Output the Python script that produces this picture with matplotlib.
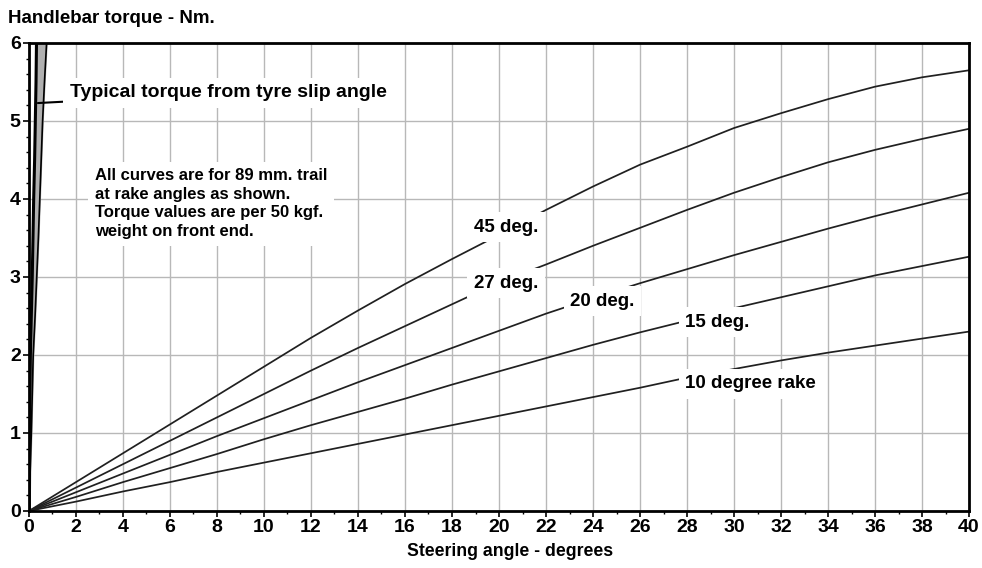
import numpy as np
import matplotlib
matplotlib.use("Agg")
import matplotlib.pyplot as plt
from matplotlib.ticker import MultipleLocator

# steering angle (deg) vs handlebar torque (Nm)
steer = [0, 2, 4, 6, 8, 10, 12, 14, 16, 18, 20, 22, 24, 26, 28, 30, 32, 34, 36, 38, 40]
rake45 = [0, 0.37, 0.74, 1.11, 1.48, 1.85, 2.22, 2.57, 2.91, 3.23, 3.54, 3.86, 4.16, 4.44, 4.67, 4.91, 5.10, 5.28, 5.44, 5.56, 5.65]
rake27 = [0, 0.30, 0.60, 0.90, 1.20, 1.50, 1.80, 2.09, 2.37, 2.65, 2.93, 3.16, 3.40, 3.63, 3.86, 4.08, 4.28, 4.47, 4.63, 4.77, 4.90]
rake20 = [0, 0.24, 0.48, 0.72, 0.96, 1.19, 1.42, 1.65, 1.87, 2.09, 2.31, 2.53, 2.73, 2.92, 3.10, 3.28, 3.45, 3.62, 3.78, 3.93, 4.08]
rake15 = [0, 0.18, 0.37, 0.55, 0.73, 0.92, 1.10, 1.27, 1.44, 1.62, 1.79, 1.96, 2.13, 2.29, 2.44, 2.60, 2.74, 2.88, 3.02, 3.14, 3.26]
rake10 = [0, 0.12, 0.25, 0.37, 0.50, 0.62, 0.74, 0.86, 0.98, 1.10, 1.22, 1.34, 1.46, 1.58, 1.71, 1.82, 1.93, 2.03, 2.12, 2.21, 2.30]

# tyre slip angle band (very steep)
slip_y = [0, 0.5, 1, 1.5, 2, 2.5, 3, 3.5, 4, 4.5, 5, 5.5, 6]
slip_lo = [0, 0.0, 0.02, 0.04, 0.06, 0.10, 0.14, 0.17, 0.20, 0.24, 0.27, 0.30, 0.32]
slip_hi = [0.02, 0.05, 0.10, 0.14, 0.18, 0.26, 0.33, 0.40, 0.46, 0.52, 0.58, 0.66, 0.75]

fam = ['Liberation Sans', 'DejaVu Sans']

fig = plt.figure(figsize=(9.82, 5.68), dpi=100)
ax = fig.add_axes([0.0295, 0.1004, 0.9573, 0.8239])

for s in [rake45, rake27, rake20, rake15, rake10]:
    ax.plot(steer, s, color='#202020', lw=1.25, zorder=2)

ax.fill_betweenx(slip_y, slip_lo, slip_hi, color='#b0b0b0', zorder=2)
ax.plot(slip_lo, slip_y, color='black', lw=2.2, zorder=2)
ax.plot(slip_hi, slip_y, color='black', lw=1.2, zorder=2)

ax.set_xlim(0, 40)
ax.set_ylim(0, 6)
ax.xaxis.set_major_locator(MultipleLocator(2))
ax.xaxis.set_minor_locator(MultipleLocator(1))
ax.yaxis.set_major_locator(MultipleLocator(1))
ax.yaxis.set_minor_locator(MultipleLocator(0.2))
ax.grid(True, which='major', color='#b8b8b8', lw=1.0, zorder=0)
ax.set_axisbelow(True)
for sp in ax.spines.values():
    sp.set_linewidth(2)
ax.tick_params(which='major', length=4, width=1.2, pad=2)
ax.tick_params(which='minor', length=2, width=1)
for lab in ax.get_xticklabels() + ax.get_yticklabels():
    lab.set_family(fam)
    lab.set_fontweight('bold')
    lab.set_fontsize(14)

fig.text(0.008, 0.968, 'Handlebar torque - Nm.', family=fam, fontweight='bold', fontsize=13.5, va='center')
ax.set_xlabel('Steering angle - degrees', family=fam, fontweight='bold', fontsize=12.7)
ax.xaxis.set_label_coords(0.512, -0.068)

box = dict(boxstyle='square,pad=0.35', fc='white', ec='none')
lab_kw = dict(family=fam, fontweight='bold', fontsize=13.5, ha='center', va='center', bbox=box, zorder=4)
ax.text(20.3, 3.64, '45 deg.', **lab_kw)
ax.text(20.3, 2.92, '27 deg.', **lab_kw)
ax.text(24.4, 2.69, '20 deg.', **lab_kw)
ax.text(29.3, 2.42, '15 deg.', **lab_kw)
ax.text(30.7, 1.63, '10 degree rake', **lab_kw)

ax.text(2.8, 3.94, 'All curves are for 89 mm. trail\nat rake angles as shown.\nTorque values are per 50 kgf.\nweight on front end.',
        family=fam, fontweight='bold', fontsize=12, ha='left', va='center', linespacing=1.3,
        bbox=dict(boxstyle='square,pad=0.4', fc='white', ec='none'), zorder=4)

ax.annotate('Typical torque from tyre slip angle', xy=(0.38, 5.23), xytext=(1.75, 5.36),
            family=fam, fontweight='bold', fontsize=14, ha='left', va='center',
            bbox=dict(boxstyle='square,pad=0.35', fc='white', ec='none'),
            arrowprops=dict(arrowstyle='-', color='black', lw=1.5, shrinkA=0, shrinkB=0), zorder=4)

fig.savefig('out.png', dpi=100)
